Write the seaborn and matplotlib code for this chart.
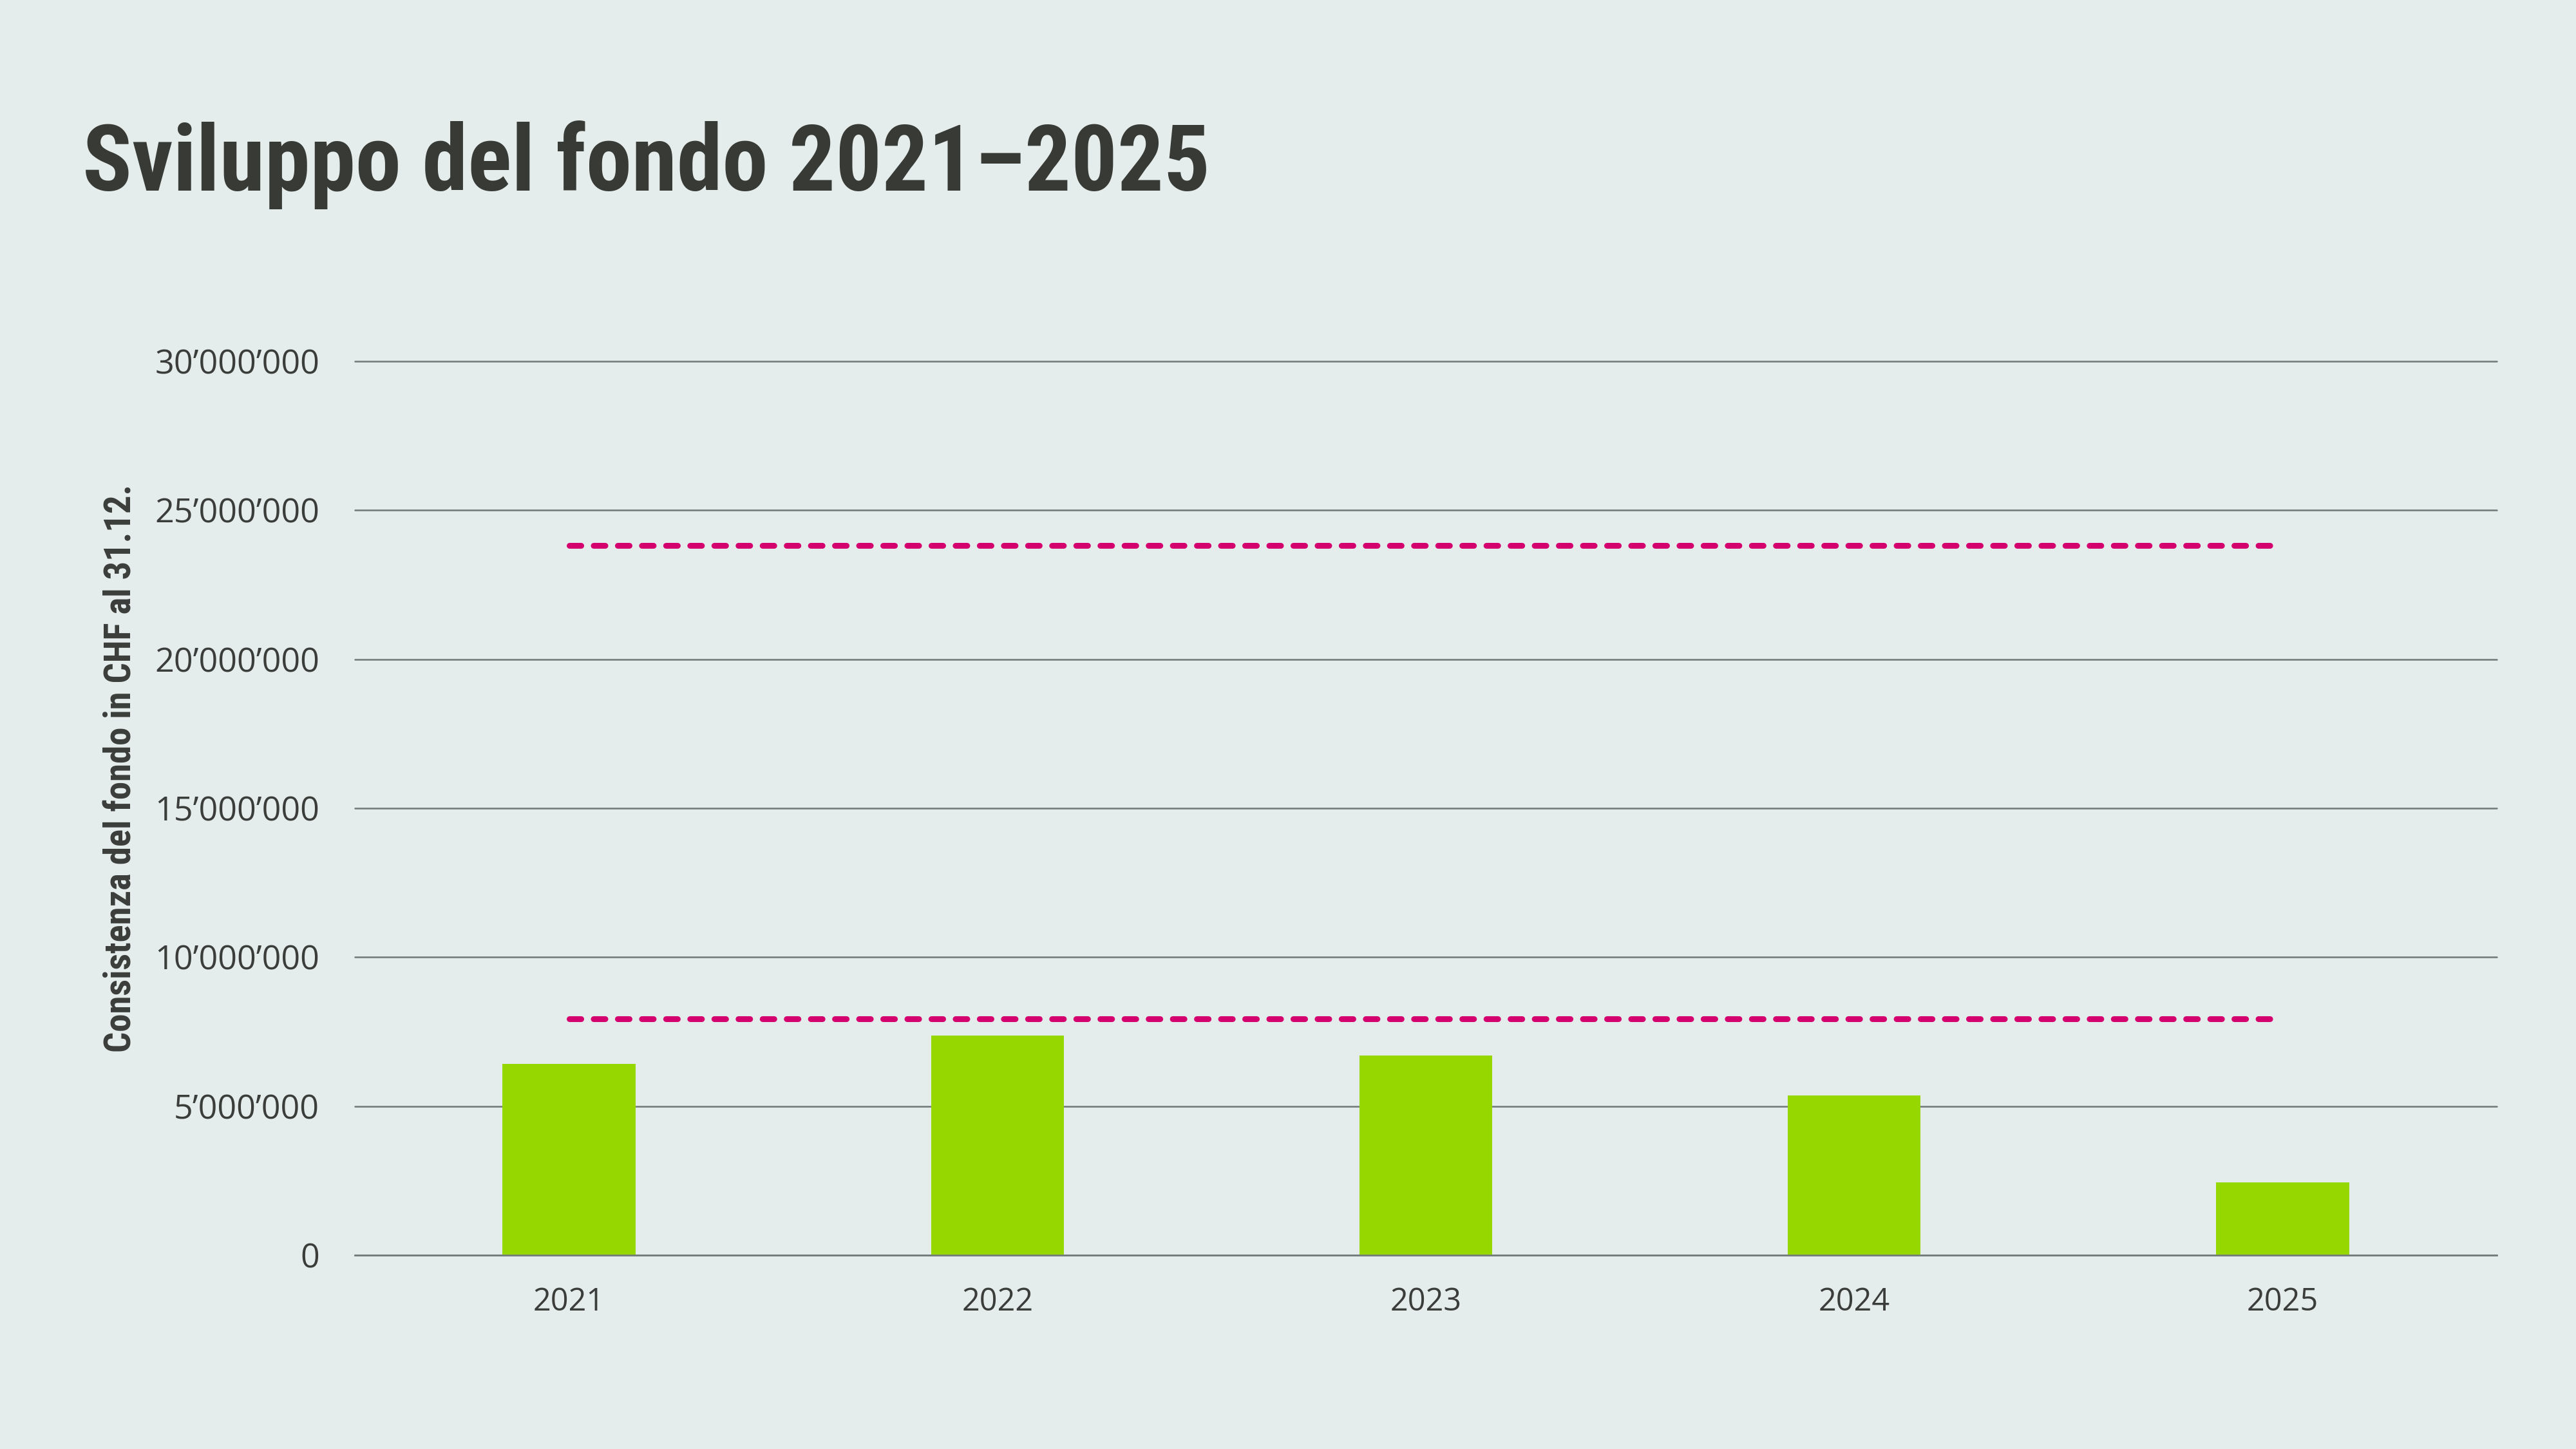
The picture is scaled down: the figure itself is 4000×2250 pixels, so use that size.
import numpy as np
import pandas as pd
import matplotlib.pyplot as plt
import seaborn as sns

# values
years = ["2021", "2022", "2023", "2024", "2025"]
fund = [6_420_000, 7_360_000, 6_700_000, 5_350_000, 2_440_000]
upper_line = [23_820_000, 23_820_000, 23_820_000, 23_820_000, 23_820_000]
lower_line = [7_930_000, 7_930_000, 7_930_000, 7_930_000, 7_930_000]
yticks = [0, 5_000_000, 10_000_000, 15_000_000, 20_000_000, 25_000_000, 30_000_000]

bg = "#e4ecec"
green = "#97d700"
magenta = "#d4006e"
grid = "#737c7c"
txt = "#3b3d3a"

sns.set_theme(style="white")
plt.rcParams["font.family"] = ["Open Sans", "DejaVu Sans"]
narrow = ["Roboto Condensed", "DejaVu Sans"]

df = pd.DataFrame({"Anno": years, "Fondo": fund})

fig = plt.figure(figsize=(16, 9), dpi=250, facecolor=bg)
ax = fig.add_axes([0.13775, 0.13378, 0.8315, 0.61689])
ax.set_facecolor(bg)

sns.barplot(data=df, x="Anno", y="Fondo", color=green, saturation=1,
            width=0.31, ax=ax, zorder=2, linewidth=0, edgecolor="none")

pos = list(range(len(years)))
for line in (upper_line, lower_line):
    sns.lineplot(x=pos, y=line, ax=ax, color=magenta, linewidth=2.6,
                 linestyle=(0, (2, 2.15)), dash_capstyle="round", zorder=3)

ax.set_xlim(-0.5, len(years) - 0.5)
ax.set_ylim(0, 30_000_000)
ax.set_yticks(yticks)
ax.set_yticklabels([f"{v:,}".replace(",", "\u2019") for v in yticks])
ax.yaxis.grid(True, color=grid, linewidth=0.75, zorder=1)
ax.set_axisbelow(True)
for gl in ax.get_ygridlines():
    gl.set_clip_on(False)

for s in ["top", "right", "left"]:
    ax.spines[s].set_visible(False)
ax.spines["bottom"].set_color(grid)
ax.spines["bottom"].set_linewidth(0.75)
ax.spines["bottom"].set_zorder(4)

ax.tick_params(axis="y", length=0, pad=15.8, labelsize=15, labelcolor=txt)
ax.tick_params(axis="x", length=0, pad=14, labelsize=14, labelcolor=txt)
ax.set_xlabel("")
ax.set_ylabel("")

fig.text(0.032, 1 - 296 / 2250, "Sviluppo del fondo 2021\u20132025",
         fontsize=41, fontweight="bold", fontstretch="condensed",
         color="#383a35", va="baseline", ha="left", family=narrow)

fig.text(0.047, 1 - 1193 / 2250, "Consistenza del fondo in CHF al 31.12.",
         fontsize=16.3, fontweight="bold", fontstretch="condensed",
         color=txt, rotation=90, ha="center", va="center", family=narrow)

fig.savefig("out.png", dpi=250, facecolor=bg)
